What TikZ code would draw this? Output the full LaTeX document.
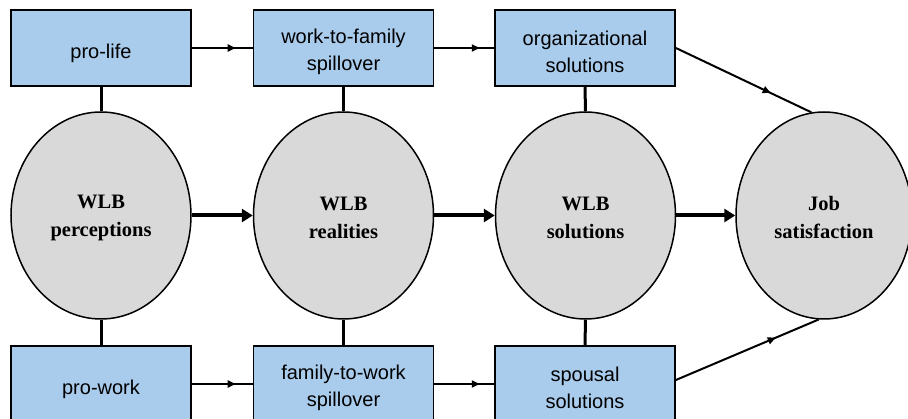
\documentclass[tikz,border=0pt]{standalone}
\usepackage{fontspec}
\setmainfont{Liberation Sans}
\newfontfamily\serifbold{Liberation Serif}
\usetikzlibrary{arrows.meta,decorations.markings,shapes.geometric}
\definecolor{boxblue}{HTML}{A9CBEC}
\definecolor{ovalgray}{HTML}{D9D9D9}
\begin{document}
\begin{tikzpicture}[x=1pt,y=-1pt,
  factor/.style={draw=black, line width=1.8pt, fill=boxblue, minimum width=180pt,
    minimum height=76pt, inner sep=0pt, align=center, text height=49pt,
    font=\fontsize{20}{26.5}\selectfont},
  oneline/.style={text height=24.5pt},
  construct/.style={ellipse, draw=black, line width=1.5pt, fill=ovalgray,
    minimum width=180pt, minimum height=207pt, inner sep=0pt, align=center,
    text height=47pt, font=\serifbold\bfseries\fontsize{20.5}{28}\selectfont},
  link/.style={line width=3pt},
  flow/.style={line width=2pt,
    decoration={markings, mark=at position #1 with {\arrow{Triangle[length=8pt,width=7pt]}}},
    postaction={decorate}},
  mainflow/.style={line width=4pt, -{Triangle[length=11pt,width=13pt]}}]
\useasboundingbox (0,0) rectangle (908,419);
\clip (0,0) rectangle (908,419);

% constructs
\node[construct] (perc) at (101,215.5) {WLB\\perceptions};
\node[construct] (real) at (343.5,215.5) {WLB\\realities};
\node[construct] (sol)  at (585.5,215.5) {WLB\\solutions};
\node[construct, minimum width=176pt] (job) at (824,215.5) {Job\\satisfaction};

% top row of factors
\node[factor, oneline] (life) at (101,48) {pro-life};
\node[factor] (wtf)    at (343.5,48) {work-to-family\\spillover};
\node[factor] (org)    at (585,48)   {organizational\\solutions};

% bottom row of factors
\node[factor, oneline] (work) at (101,384) {pro-work};
\node[factor] (ftw)    at (343.5,384) {family-to-work\\spillover};
\node[factor] (spouse) at (585,384)   {spousal\\solutions};

% factors attached to constructs
\draw[link] (life.south) -- (perc.north);
\draw[link] (wtf.south) -- (real.north);
\draw[link] (org.south) -- (sol.north);
\draw[link] (work.north) -- (perc.south);
\draw[link] (ftw.north) -- (real.south);
\draw[link] (spouse.north) -- (sol.south);

% main chain
\draw[mainflow] (perc.east) -- (real.west);
\draw[mainflow] (real.east) -- (sol.west);
\draw[mainflow] (sol.east) -- (job.west);

% factor chains
\draw[flow=0.72] (life.east) -- (wtf.west);
\draw[flow=0.76] (wtf.east) -- (org.west);
\draw[flow=0.70] (org.east) -- (job.97);
\draw[flow=0.72] (work.east) -- (ftw.west);
\draw[flow=0.76] (ftw.east) -- (spouse.west);
\draw[flow=0.70] ([yshift=4pt]spouse.east) -- (job.-93);
\end{tikzpicture}
\end{document}
